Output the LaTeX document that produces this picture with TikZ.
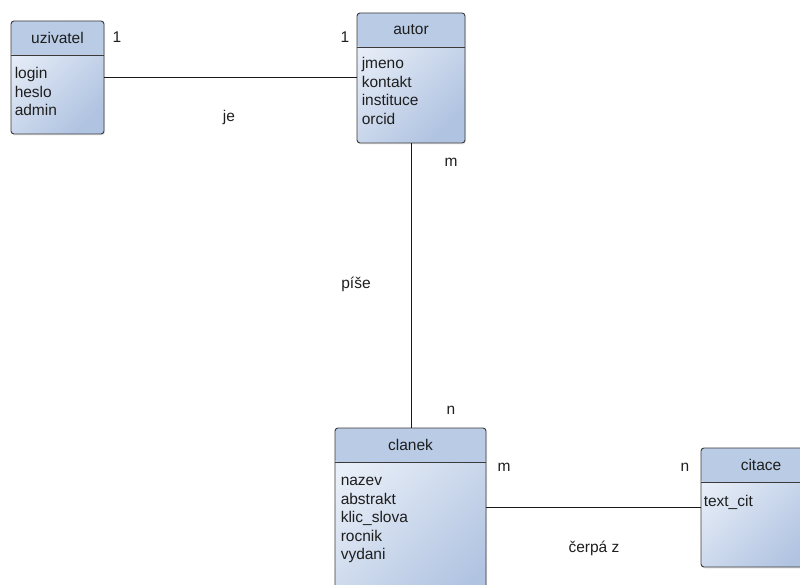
\documentclass[tikz,border=0pt]{standalone}
\usepackage{fontspec}
\setmainfont{Liberation Sans}
\usetikzlibrary{positioning,shadows,calc}
\definecolor{entHead}{RGB}{185,203,229}
\definecolor{entLight}{RGB}{233,239,248}
\definecolor{entDark}{RGB}{176,195,225}
\definecolor{entBorder}{RGB}{58,58,58}
\definecolor{lineColor}{RGB}{25,25,25}
\definecolor{textColor}{RGB}{30,30,30}

\tikzset{
  entity/.style={draw=entBorder, line width=0.9pt, rounded corners=3pt, inner sep=0pt,
    top color=entLight, bottom color=entDark, shading angle=45,
    drop shadow={opacity=0.18, shadow xshift=1pt, shadow yshift=-1.5pt},
    path picture={
      \fill[entHead] (path picture bounding box.north west) rectangle ([yshift=-34pt]path picture bounding box.north east);
      \draw[entBorder, line width=0.9pt] ([yshift=-34pt]path picture bounding box.north west) -- ([yshift=-34pt]path picture bounding box.north east);
    }},
  head/.style={inner sep=0pt},
  attrs/.style={anchor=north west, align=left, inner sep=0pt, execute at begin node={\strut}},
  conn/.style={draw=lineColor, line width=0.9pt},
  card/.style={inner sep=0pt}
}

\begin{document}
\begin{tikzpicture}[x=1pt, y=-1pt,
  every node/.style={font=\fontsize{15.5}{18.5}\selectfont, text=textColor}]
  \useasboundingbox (0,0) rectangle (800,585);
  \clip (0,0) rectangle (800,585);

  % entities
  \node[entity, minimum width=93pt, minimum height=113pt] (uzivatel) at (57.5,77.5) {};
  \node[entity, minimum width=108pt, minimum height=130pt] (autor) at (411,78) {};
  \node[entity, minimum width=151pt, minimum height=190pt] (clanek) at (410.5,523) {};
  \node[entity, minimum width=120pt, minimum height=119pt] (citace) at (761,507.5) {};

  % headers
  \node[head] (uzivatel-h) at ([yshift=-17pt]uzivatel.north) {uzivatel};
  \node[head] (autor-h) at ([yshift=-17pt]autor.north) {autor};
  \node[head] (clanek-h) at ([yshift=-17pt]clanek.north) {clanek};
  \node[head] (citace-h) at ([yshift=-17pt]citace.north) {citace};

  % attributes
  \node[attrs] (uzivatel-a) at ([xshift=4pt,yshift=-47pt]uzivatel.north west) {login\\heslo\\admin};
  \node[attrs] (autor-a) at ([xshift=5pt,yshift=-45pt]autor.north west) {jmeno\\kontakt\\instituce\\orcid};
  \node[attrs] (clanek-a) at ([xshift=6pt,yshift=-49.5pt]clanek.north west) {nazev\\abstrakt\\klic\_slova\\rocnik\\vydani};
  \node[attrs] (citace-a) at ([xshift=3pt,yshift=-46pt]citace.north west) {text\_cit};

  % relations
  \draw[conn] (uzivatel.east) -- (uzivatel.east -| autor.west);
  \draw[conn] (autor.south) -- (autor.south |- clanek.north);
  \draw[conn] (citace.west -| clanek.east) -- (citace.west);

  % labels
  \node[card] (je-1) at (117,37) {1};
  \node[card] (je-2) at (345,37) {1};
  \node[card] (je) at (229,117) {je};
  \node[card] (pise-m) at (451,162) {m};
  \node[card] (pise) at (356,284) {píše};
  \node[card] (pise-n) at (451,410) {n};
  \node[card] (cerpa-m) at (504,467) {m};
  \node[card] (cerpa-n) at (685,467) {n};
  \node[card] (cerpa) at (594,548) {čerpá z};
\end{tikzpicture}
\end{document}
